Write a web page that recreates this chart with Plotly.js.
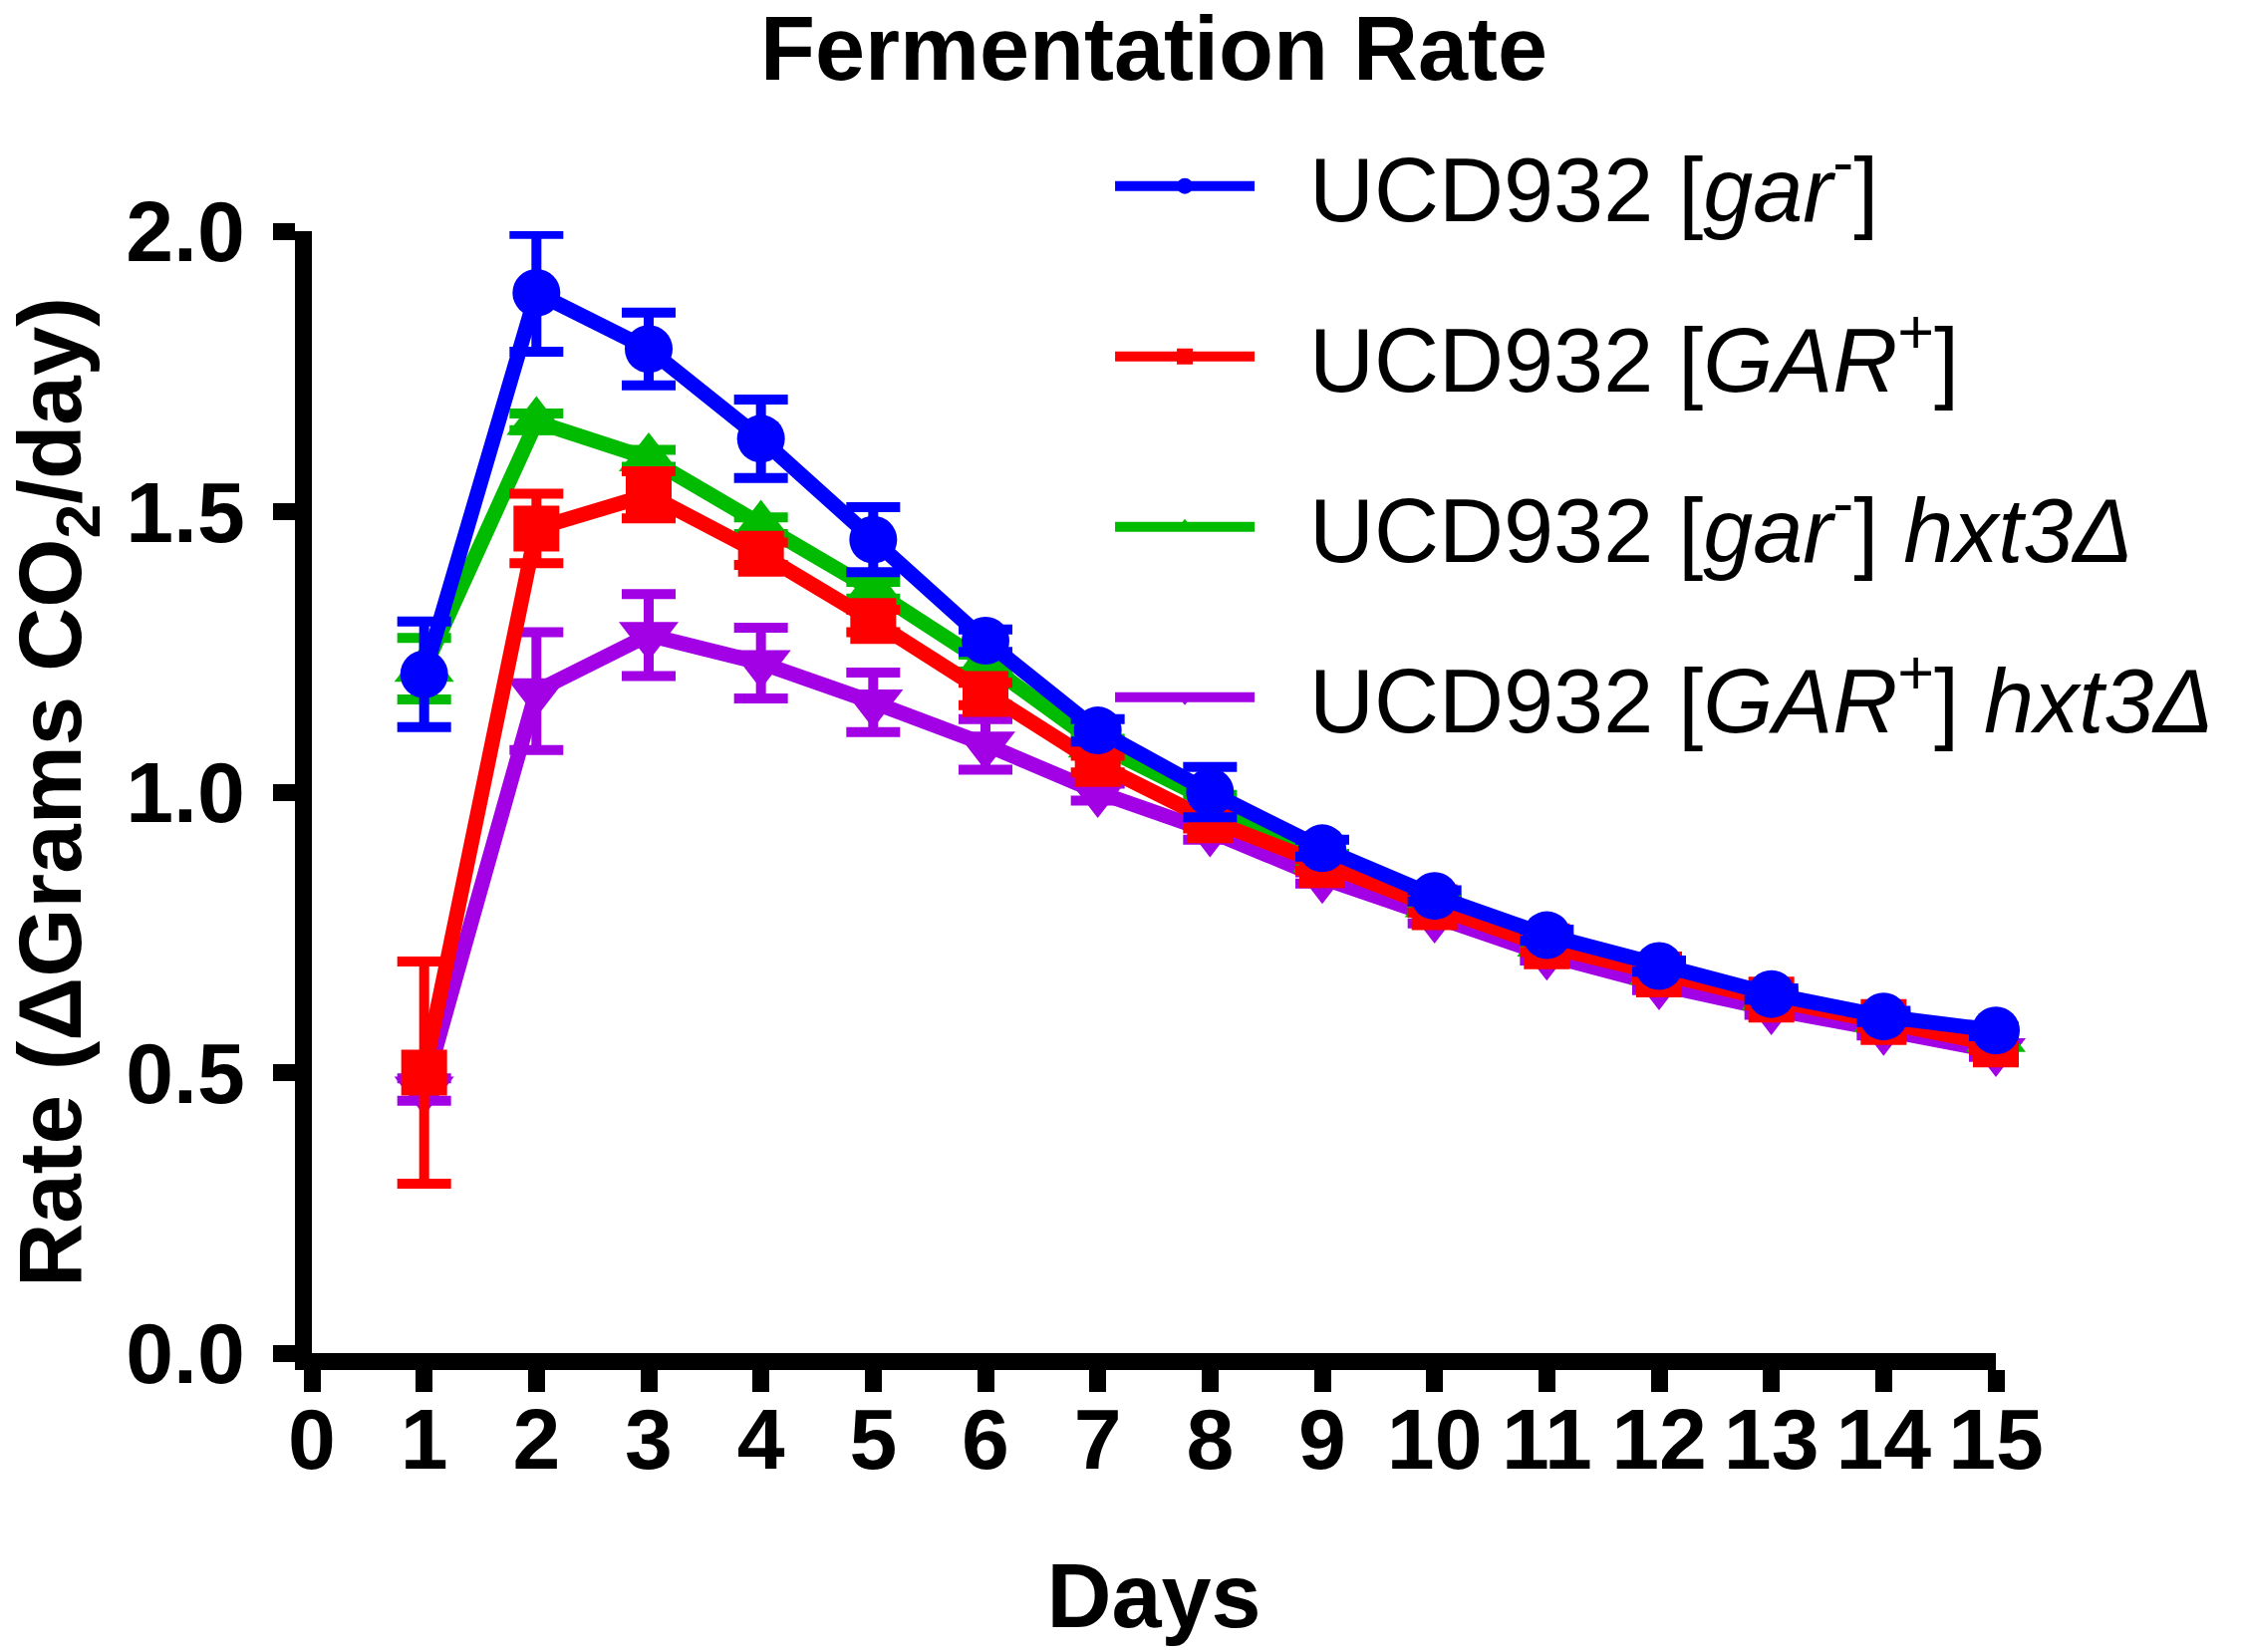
<!DOCTYPE html>
<html>
<head>
<meta charset="utf-8">
<script src="https://cdn.plot.ly/plotly-3.0.1.min.js"></script>
<style>
  html, body { margin: 0; padding: 0; background: #fff; }
  #chart { width: 2250px; height: 1658px; }
</style>
</head>
<body>
<div id="chart"></div>
<script>
// days of the run
var days = [1, 2, 3, 4, 5, 6, 7, 8, 9, 10, 11, 12, 13, 14, 15];

// UCD932 [gar-]
var garMinus = [1.21, 1.89, 1.79, 1.63, 1.45, 1.27, 1.11, 1.00, 0.90, 0.815, 0.745, 0.69, 0.64, 0.60, 0.575];
var garMinusErr = [0.094, 0.105, 0.065, 0.07, 0.058, 0.02, 0.02, 0.045, 0.015, 0.01, 0.01, 0.01, 0.01, 0.01, 0.01];

// UCD932 [GAR+]
var garPlus = [0.50, 1.47, 1.53, 1.425, 1.305, 1.175, 1.05, 0.95, 0.87, 0.795, 0.725, 0.675, 0.63, 0.59, 0.55];
var garPlusErr = [0.198, 0.062, 0.042, 0.02, 0.02, 0.02, 0.015, 0.015, 0.01, 0.01, 0.01, 0.01, 0.01, 0.01, 0.01];

// UCD932 [gar-] hxt3d
var garMinusHxt = [1.22, 1.66, 1.595, 1.475, 1.36, 1.23, 1.085, 0.985, 0.88, 0.80, 0.73, 0.68, 0.635, 0.595, 0.56];
var garMinusHxtErr = [0.055, 0.015, 0.015, 0.015, 0.015, 0.015, 0.01, 0.01, 0.01, 0.01, 0.01, 0.01, 0.01, 0.01, 0.01];

// UCD932 [GAR+] hxt3d
var garPlusHxt = [0.47, 1.18, 1.28, 1.23, 1.16, 1.085, 1.00, 0.93, 0.847, 0.776, 0.71, 0.657, 0.613, 0.576, 0.538];
var garPlusHxtErr = [0.02, 0.105, 0.073, 0.063, 0.053, 0.045, 0.015, 0.015, 0.01, 0.01, 0.01, 0.01, 0.01, 0.01, 0.01];

var xTicks = [0, 1, 2, 3, 4, 5, 6, 7, 8, 9, 10, 11, 12, 13, 14, 15];
var yTicks = [0, 0.5, 1.0, 1.5, 2.0];
var yTickText = ['0.0', '0.5', '1.0', '1.5', '2.0'];

// two no-break spaces keep the gap between legend symbol and text
var seriesNames = [
    '\u00a0\u00a0UCD932 [<i>gar</i><sup>-</sup>]',
    '\u00a0\u00a0UCD932 [<i>GAR</i><sup>+</sup>]',
    '\u00a0\u00a0UCD932 [<i>gar</i><sup>-</sup>] <i>hxt3Δ</i>',
    '\u00a0\u00a0UCD932 [<i>GAR</i><sup>+</sup>] <i>hxt3Δ</i>'
];

var FONT = 'Liberation Sans, Arial, Helvetica, sans-serif';

function makeTrace(y, err, name, color, symbol, size, rank) {
    return {
        x: days,
        y: y,
        name: name,
        legendgroup: 'g' + rank,
        legendrank: rank,
        type: 'scatter',
        mode: 'lines+markers',
        line: { color: color, width: 15 },
        marker: { color: color, symbol: symbol, size: size },
        error_y: {
            type: 'data',
            array: err,
            visible: true,
            color: color,
            thickness: 10,
            width: 27
        },
        cliponaxis: false
    };
}

// drawn bottom to top: purple, green, red, blue
var data = [
    makeTrace(garPlusHxt, garPlusHxtErr, seriesNames[3], '#a200e5', 'triangle-down', 52, 4),
    makeTrace(garMinusHxt, garMinusHxtErr, seriesNames[2], '#00bb00', 'triangle-up', 52, 3),
    makeTrace(garPlus, garPlusErr, seriesNames[1], '#ff0000', 'square', 46, 2),
    makeTrace(garMinus, garMinusErr, seriesNames[0], '#0000ff', 'circle', 48, 1)
];

var layout = {
    width: 2250,
    height: 1658,
    paper_bgcolor: '#fff',
    plot_bgcolor: '#fff',
    font: { family: FONT, color: '#000' },
    margin: { l: 313, r: 247, t: 232, b: 300, pad: 0 },
    title: {
        text: 'Fermentation Rate',
        font: { family: FONT, size: 90, weight: 'bold', color: '#000' },
        xref: 'paper',
        x: 0.5,
        xanchor: 'center',
        yref: 'container',
        y: 0.971,
        yanchor: 'middle'
    },
    showlegend: true,
    legend: {
        x: 0.474,
        xanchor: 'left',
        y: 1.098,
        yanchor: 'top',
        traceorder: 'grouped',
        tracegroupgap: 51,
        itemwidth: 140,
        bgcolor: 'rgba(0,0,0,0)',
        font: { family: FONT, size: 90, color: '#000' }
    },
    xaxis: {
        range: [0, 15],
        tickvals: xTicks,
        showgrid: false,
        zeroline: false,
        showline: true,
        linecolor: '#000',
        linewidth: 17,
        ticks: 'outside',
        ticklen: 22,
        tickwidth: 17,
        tickcolor: '#000',
        ticklabelstandoff: -26,
        tickfont: { family: FONT, size: 86, weight: 'bold', color: '#000' },
        title: {
            text: 'Days',
            font: { family: FONT, size: 90, weight: 'bold', color: '#000' },
            standoff: 86
        },
        fixedrange: true
    },
    yaxis: {
        range: [0, 2],
        tickvals: yTicks,
        ticktext: yTickText,
        showgrid: false,
        zeroline: false,
        showline: true,
        linecolor: '#000',
        linewidth: 17,
        ticks: 'outside',
        ticklen: 22,
        tickwidth: 17,
        tickcolor: '#000',
        ticklabelstandoff: 11,
        tickfont: { family: FONT, size: 86, weight: 'bold', color: '#000' },
        title: {
            text: 'Rate (ΔGrams CO<sub>2</sub>/day)',
            font: { family: FONT, size: 89, weight: 'bold', color: '#000' },
            standoff: 29
        },
        fixedrange: true
    }
};

Plotly.newPlot('chart', data, layout, { displayModeBar: false, staticPlot: true });
</script>
</body>
</html>
